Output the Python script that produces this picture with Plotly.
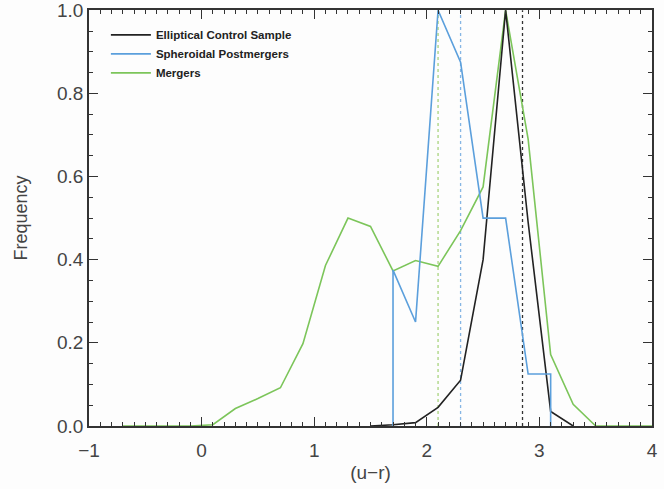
import plotly.graph_objects as go

# Elliptical control sample (black)
ell_x = [1.5, 1.7, 1.9, 2.1, 2.3, 2.5, 2.7, 2.9, 3.1, 3.3]
ell_y = [0.0, 0.003, 0.008, 0.045, 0.11, 0.40, 1.0, 0.49, 0.035, 0.0]

# Spheroidal postmergers (blue)
sph_x = [1.7, 1.7, 1.9, 2.1, 2.3, 2.5, 2.7, 2.9, 3.1, 3.1]
sph_y = [0.0, 0.375, 0.25, 1.0, 0.875, 0.5, 0.5, 0.125, 0.125, 0.0]

# Mergers (green)
mer_x = [-0.7, -0.5, -0.3, -0.1, 0.1, 0.3, 0.5, 0.7, 0.9, 1.1, 1.3, 1.5, 1.7,
         1.9, 2.1, 2.3, 2.5, 2.7, 2.9, 3.1, 3.3, 3.5, 3.7, 3.9, 4.1]
mer_y = [0.0, 0.0, 0.0, 0.0, 0.003, 0.042, 0.066, 0.092, 0.198, 0.386, 0.50, 0.48, 0.373,
         0.398, 0.384, 0.47, 0.575, 1.0, 0.69, 0.172, 0.052, 0.0, 0.0, 0.0, 0.0]

# Median colours (dotted lines)
median_mer = 2.1
median_sph = 2.3
median_ell = 2.85

x_tickvals = [-1, 0, 1, 2, 3, 4]
x_ticktext = ["\u22121", "0", "1", "2", "3", "4"]
y_tickvals = [0.0, 0.2, 0.4, 0.6, 0.8, 1.0]
y_ticktext = ["0.0", "0.2", "0.4", "0.6", "0.8", "1.0"]

c_black = "#222222"
c_blue = "#5b9fdc"
c_green = "#7cc55a"

fig = go.Figure()

for xm, col in [(median_mer, "#a8d47e"), (median_sph, "#86b6e4"), (median_ell, "#333333")]:
    fig.add_trace(go.Scatter(x=[xm, xm], y=[0, 1], mode="lines",
                             line=dict(color=col, width=1.3, dash="dot"),
                             showlegend=False, hoverinfo="skip"))

fig.add_trace(go.Scatter(x=mer_x, y=mer_y, mode="lines", name="Mergers",
                         line=dict(color=c_green, width=1.6), legendrank=3))
fig.add_trace(go.Scatter(x=ell_x, y=ell_y, mode="lines", name="Elliptical Control Sample",
                         line=dict(color=c_black, width=1.6), legendrank=1))
fig.add_trace(go.Scatter(x=sph_x, y=sph_y, mode="lines", name="Spheroidal Postmergers",
                         line=dict(color=c_blue, width=1.6), legendrank=2))

axis_common = dict(
    showline=True, linecolor="#333333", linewidth=1.5, mirror="ticks",
    ticks="inside", ticklen=9, tickwidth=1.2, tickcolor="#333333",
    showgrid=False, zeroline=False, automargin=False, ticklabeloverflow="allow",
    tickfont=dict(family="Liberation Sans", size=19, color="#444444"),
)

fig.update_xaxes(range=[-1, 4], tickvals=x_tickvals, ticktext=x_ticktext,
                 ticklabelstandoff=6,
                 minor=dict(dtick=0.1, ticks="inside", ticklen=4, tickcolor="#333333", tickwidth=1),
                 title=dict(text="(u\u2212r)", font=dict(family="Liberation Sans", size=19, color="#444444"),
                            standoff=6),
                 **axis_common)
fig.update_yaxes(range=[0, 1.0005], tickvals=y_tickvals, ticktext=y_ticktext,
                 minor=dict(dtick=0.05, ticks="inside", ticklen=4, tickcolor="#333333", tickwidth=1),
                 title=dict(text="Frequency", font=dict(family="Liberation Sans", size=18, color="#444444"),
                            standoff=25),
                 **axis_common)

fig.update_layout(
    width=664, height=489,
    margin=dict(l=89, r=12, t=10, b=63),
    paper_bgcolor="#fdfdfd", plot_bgcolor="#fdfdfd",
    showlegend=True,
    legend=dict(x=0.03, y=0.975, xanchor="left", yanchor="top",
                bgcolor="rgba(0,0,0,0)", itemwidth=40,
                font=dict(family="Liberation Sans", size=11.5, color="#222222", weight="bold"),
                tracegroupgap=0),
)

fig.write_html("out.html", config={"displayModeBar": False},
               post_script="document.body.style.margin='0px';")
